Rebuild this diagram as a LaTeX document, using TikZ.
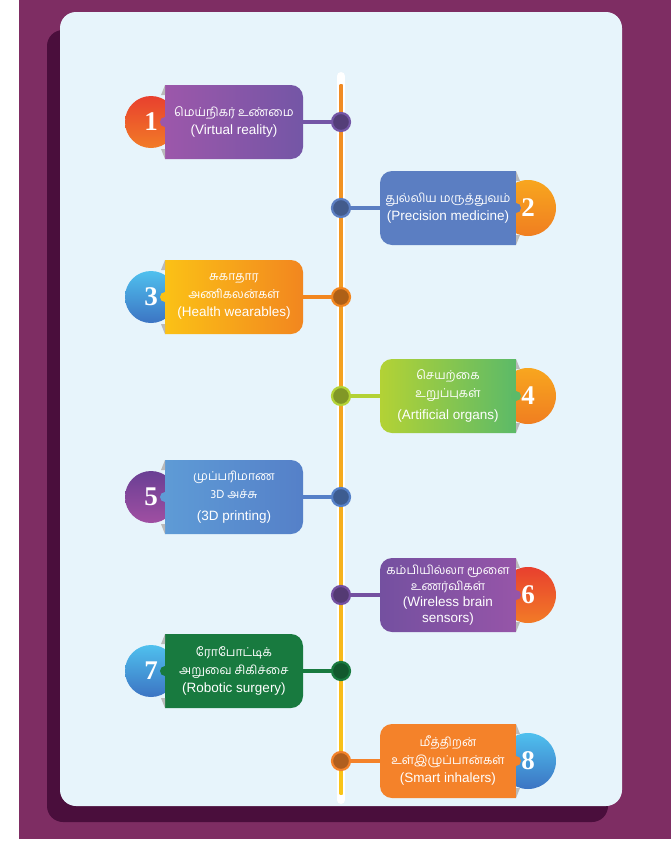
\documentclass[tikz,border=0pt]{standalone}
\usepackage{fontspec}
\setmainfont{Liberation Sans}
\newfontfamily\tamilfont[Script=Tamil, Scale=0.9]{Hind Madurai}
\newfontfamily\numfont{Liberation Serif}
\usetikzlibrary{positioning, calc}
\definecolor{bgplum}{HTML}{7E2D63}
\definecolor{shadowplum}{HTML}{4A0E3C}
\definecolor{panelblue}{HTML}{E7F4FB}
\definecolor{lineorange}{HTML}{F08A24}
\definecolor{lineyellow}{HTML}{F9C518}
% item colours
\definecolor{vrL}{HTML}{9C57AA}
\definecolor{vrR}{HTML}{7456A6}
\definecolor{pmBox}{HTML}{5B7EC2}
\definecolor{hwL}{HTML}{FBC116}
\definecolor{hwR}{HTML}{F2861F}
\definecolor{aoL}{HTML}{B3D235}
\definecolor{aoR}{HTML}{5CBA68}
\definecolor{tdL}{HTML}{5E9BD6}
\definecolor{tdR}{HTML}{5580C8}
\definecolor{wbL}{HTML}{7450A0}
\definecolor{wbR}{HTML}{9655A8}
\definecolor{rsBox}{HTML}{187A3F}
\definecolor{siBox}{HTML}{F4822A}
% badge colours
\definecolor{redT}{HTML}{E8402E}
\definecolor{redB}{HTML}{F27B27}
\definecolor{orT}{HTML}{F8A61F}
\definecolor{orB}{HTML}{F07E20}
\definecolor{blT}{HTML}{4FC0EE}
\definecolor{blB}{HTML}{3C74C3}
\definecolor{puT}{HTML}{6A3F94}
\definecolor{puB}{HTML}{A04FA2}

\begin{document}
\begin{tikzpicture}[x=1pt, y=-1pt,
    badge/.style={circle, inner sep=0pt, text=white, font=\numfont\bfseries\fontsize{27}{27}\selectfont},
    redbadge/.style={top color=redT, bottom color=redB},
    orangebadge/.style={top color=orT, bottom color=orB},
    bluebadge/.style={top color=blT, bottom color=blB},
    purplebadge/.style={top color=puT, bottom color=puB},
    itemtext/.style={text=white, align=center, minimum width=136pt, minimum height=73pt, inner sep=0pt, font=\fontsize{13.5}{18}\selectfont},
    hub/.style={circle, minimum size=18pt, inner sep=0pt, line width=2.2pt},
    link/.style={line width=4pt},
    fold/.style={fill=gray!55}
]
    % Background
    \useasboundingbox (0,0) rectangle (671,854);
    \fill[bgplum] (19,0) rectangle (671,839);
    \fill[shadowplum, rounded corners=16pt] (47,30) rectangle (608,822);
    \fill[panelblue, rounded corners=16pt] (60,12) rectangle (622,806);

    % Timeline
    \coordinate (ltop) at (341,76);
    \coordinate (lbot) at (341,800);
    \draw[white, line width=8pt, line cap=round] (ltop) -- (lbot);
    \shade[top color=lineorange, bottom color=lineyellow] (339.5,84) rectangle (342.5,794);

    % Left boxes
    \foreach \n/\y/\ca/\cb/\bst in {1/122/vrL/vrR/redbadge, 3/297/hwL/hwR/bluebadge,
                                      5/497/tdL/tdR/purplebadge, 7/671/rsBox/rsBox/bluebadge} {
        \node[badge, \bst, minimum size=52pt] (badge\n) at (151,\y) {\n};
        \shade[left color=\ca, right color=\cb] (234,\y-37) [rounded corners=12pt] -- (303,\y-37) -- (303,\y+37) -- (234,\y+37)
            [sharp corners] -- (165,\y+37) -- (165,\y-37) -- cycle;
        \fill[\ca] (165,\y) circle (5pt);
        \fill[fold] (165,\y-37) -- (161,\y-27) -- (165,\y-27) -- cycle;
        \fill[fold] (165,\y+37) -- (161,\y+27) -- (165,\y+27) -- cycle;
    }

    % Right boxes
    \foreach \n/\y/\ca/\cb/\bst in {2/208/pmBox/pmBox/orangebadge, 4/396/aoL/aoR/orangebadge,
                                      6/595/wbL/wbR/redbadge, 8/761/siBox/siBox/bluebadge} {
        \node[badge, \bst, minimum size=56pt] (badge\n) at (528,\y) {\n};
        \shade[left color=\ca, right color=\cb] (448,\y-37) [rounded corners=12pt] -- (380,\y-37) -- (380,\y+37) -- (448,\y+37)
            [sharp corners] -- (516,\y+37) -- (516,\y-37) -- cycle;
        \fill[\cb] (516,\y) circle (5pt);
        \fill[fold] (516,\y-37) -- (520,\y-27) -- (516,\y-27) -- cycle;
        \fill[fold] (516,\y+37) -- (520,\y+27) -- (516,\y+27) -- cycle;
    }

    % Texts
    \node[itemtext] (box1) at (234,122) {{\tamilfont மெய்நிகர் உண்மை}\\(Virtual reality)};
    \node[itemtext] (box2) at (448,208) {{\tamilfont துல்லிய மருத்துவம்}\\(Precision medicine)};
    \node[itemtext] (box3) at (234,297) {{\tamilfont சுகாதார}\\{\tamilfont அணிகலன்கள்}\\(Health wearables)};
    \node[itemtext] (box4) at (448,396) {{\tamilfont செயற்கை}\\{\tamilfont உறுப்புகள்}\\[4pt](Artificial organs)};
    \node[itemtext] (box5) at (234,497) {{\tamilfont முப்பரிமாண}\\{\tamilfont 3D அச்சு}\\[4pt](3D printing)};
    \node[itemtext, font=\fontsize{13.5}{16}\selectfont] (box6) at (448,595) {{\tamilfont கம்பியில்லா மூளை}\\{\tamilfont உணர்விகள்}\\(Wireless brain\\sensors)};
    \node[itemtext] (box7) at (234,671) {{\tamilfont ரோபோட்டிக்}\\{\tamilfont அறுவை சிகிச்சை}\\(Robotic surgery)};
    \node[itemtext] (box8) at (448,761) {{\tamilfont மீத்திறன்}\\{\tamilfont உள்இழுப்பான்கள்}\\(Smart inhalers)};

    % Hubs on the timeline
    \foreach \n/\c in {1/vrR, 2/pmBox, 3/hwR, 4/aoL, 5/tdR, 6/wbL, 7/rsBox, 8/siBox} {
        \node[hub, fill=\c!72!black, draw=\c] (dot\n) at (ltop |- box\n) {};
        \draw[link, \c] (box\n) -- (dot\n);
    }
\end{tikzpicture}
\end{document}
